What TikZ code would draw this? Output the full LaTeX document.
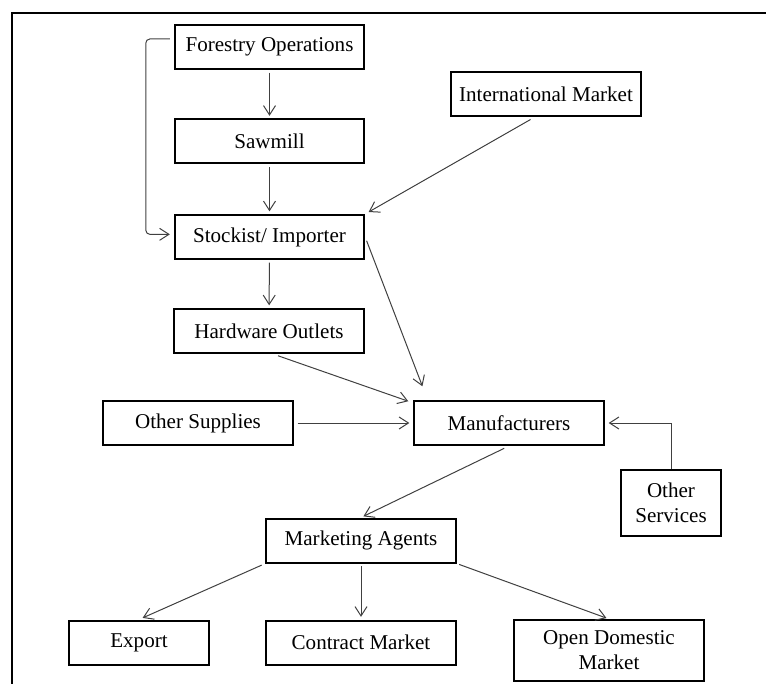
\documentclass[tikz,border=0pt]{standalone}
\usepackage{fontspec}
\setmainfont{Liberation Serif}
\usetikzlibrary{arrows.meta}

\begin{document}
\begin{tikzpicture}[x=0.75pt,y=-0.75pt,
  box/.style={draw,line width=1.5pt,inner sep=0pt,align=center,
    font=\fontsize{15.8}{18.6}\selectfont,minimum height=33pt,minimum width=142pt},
  flow/.style={black!75,line width=0.75pt,-{Straight Barb[length=7pt,width=9pt]}}]
  \useasboundingbox (0,0) rectangle (766,684);
  \draw[line width=1.6pt] (766,13) -- (12,13) -- (12,684);

  \node[box] (forest)   at (269.5,47)  {Forestry Operations};
  \node[box] (sawmill)  at (269.5,141.5) {Sawmill};
  \node[box] (stockist) at (269.5,237) {Stockist/ Importer};
  \node[box] (hardware) at (269,331)   {Hardware Outlets};
  \node[box] (intl)     at (546,94.5)  {International Market};
  \node[box] (supplies) at (198,423)   {Other Supplies};
  \node[box] (manuf)    at (509,423)   {Manufacturers};
  \node[box,minimum width=75pt,minimum height=49.5pt] (services) at (671,503) {Other\\Services};
  \node[box] (agents)   at (361,540.5) {Marketing Agents};
  \node[box,minimum width=105pt] (export) at (139,642.5) {Export};
  \node[box] (contract) at (361,642.5) {Contract Market};
  \node[box,minimum height=45.75pt] (domestic) at (609,650.5) {Open Domestic\\Market};

  \path[flow,shorten <=2pt,shorten >=2pt]
    (forest)  edge (sawmill)
    (sawmill) edge (stockist)
    (stockist) edge (hardware)
    (agents)  edge (contract);
  \path[flow]
    ([xshift=-9pt]intl.south) edge[shorten <=3pt,shorten >=3pt] (stockist.north east)
    (stockist.east) edge[shorten <=3pt,shorten >=11pt] ([xshift=-61pt]manuf.north)
    ([xshift=3pt]hardware.south) edge[shorten <=4pt,shorten >=4pt] ([yshift=15pt]manuf.west)
    (supplies) edge[shorten <=3pt,shorten >=3pt] (manuf)
    (manuf.south) edge[shorten <=4pt,shorten >=2pt] (agents.north)
    (agents.south west) edge[shorten <=3pt,shorten >=3pt] (export.north)
    (agents.south east) edge[shorten <=2pt,shorten >=2pt] (domestic.north);
  \draw[flow,shorten >=3pt] (services.north) |- (manuf.east);
  \draw[flow,rounded corners=3pt,shorten <=3pt,shorten >=3pt]
    ([yshift=6pt]forest.west) -- ++(-28,0) |- ([yshift=2pt]stockist.west);
\end{tikzpicture}
\end{document}
